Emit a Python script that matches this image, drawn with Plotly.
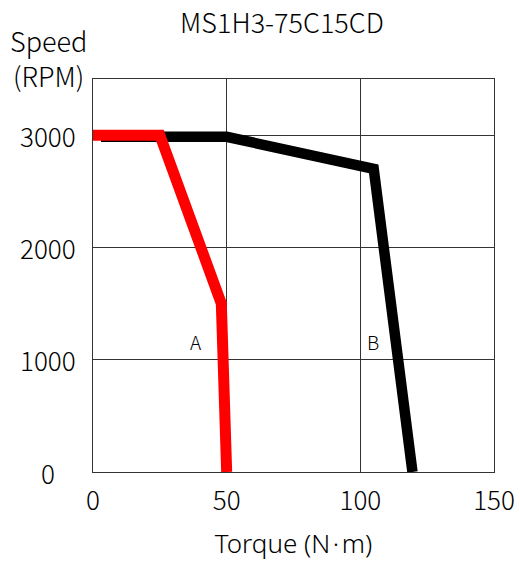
import plotly.graph_objects as go

# Data
curve_a_torque = [0, 25, 48, 50]
curve_a_speed = [3000, 3000, 1500, 0]
curve_b_torque = [3, 50, 105, 119.5]
curve_b_speed = [2985, 2985, 2700, 0]
label_names = ["A", "B"]
label_torque = [38.5, 104.7]
label_speed = [1165, 1165]
x_ticks = [0, 50, 100, 150]
y_ticks = [0, 1000, 2000, 3000]
y_tick_text = ["0", "1000", "2000", "3000"]

FONT = "Noto Sans CJK SC"
LATIN = "Noto Sans"

fig = go.Figure()
fig.add_trace(go.Scatter(x=curve_b_torque, y=curve_b_speed, mode="lines",
                         line=dict(color="black", width=10.5), hoverinfo="skip"))
fig.add_trace(go.Scatter(x=curve_a_torque, y=curve_a_speed, mode="lines",
                         line=dict(color="#ff0000", width=11), hoverinfo="skip"))

for name, xv, yv in zip(label_names, label_torque, label_speed):
    fig.add_annotation(x=xv, y=yv, text=name, showarrow=False,
                       font=dict(family=FONT, size=19, color="black", weight=300))

for yv, txt in zip(y_ticks, y_tick_text):
    fig.add_annotation(xref="paper", x=-0.112, y=yv, yref="y", text=txt,
                       showarrow=False, xanchor="center", yanchor="middle",
                       font=dict(family=FONT, size=26, color="black", weight=300))

fig.add_annotation(xref="paper", yref="paper", x=-0.112, y=1.054,
                   xanchor="center", yanchor="middle",
                   text="Speed<br>(RPM)", showarrow=False, align="center",
                   font=dict(family=FONT, size=27, color="black", weight=300))

fig.update_layout(
    width=520, height=565,
    margin=dict(l=93, r=26, t=79, b=93, autoexpand=False),
    paper_bgcolor="white", plot_bgcolor="white",
    showlegend=False,
    title=dict(text="MS1H3-75C15CD", x=0.5423, xanchor="center", y=0.958, yanchor="middle",
               font=dict(family=FONT, size=27, color="black", weight=300)),
    font=dict(family=FONT, size=26, color="black", weight=300),
)
fig.update_xaxes(range=[0, 150], tickvals=x_ticks, showgrid=True, gridcolor="#333",
                 gridwidth=1, zeroline=False, showline=True, linecolor="#333",
                 mirror=True, ticks="", ticklabelstandoff=6, automargin=False,
                 ticklabeloverflow="allow",
                 tickfont=dict(family=FONT, size=26, weight=300),
                 title=dict(text="Torque (N\u200a·\u200am)",
                            font=dict(family=LATIN, size=26, weight=300),
                            standoff=18))
fig.update_yaxes(range=[0, 3500], tickvals=y_ticks, showgrid=True, gridcolor="#333",
                 gridwidth=1, zeroline=False, showline=True, linecolor="#333",
                 mirror=True, ticks="", showticklabels=False, automargin=False)

fig.write_html("out.html", config={"displayModeBar": False},
               post_script="document.body.style.margin='0';")
